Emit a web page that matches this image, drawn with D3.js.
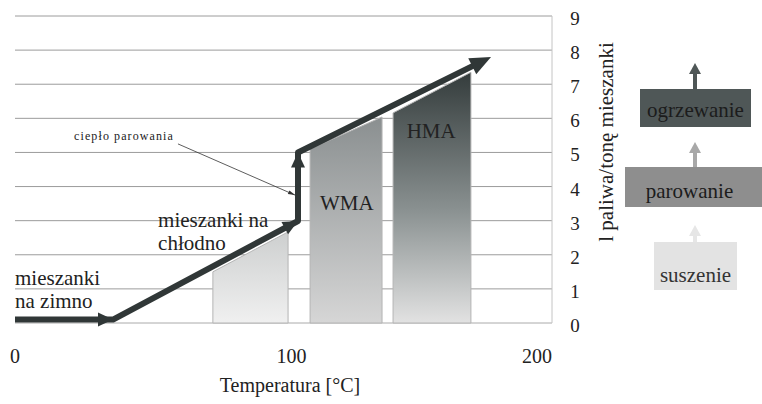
<!DOCTYPE html>
<html>
<head>
<meta charset="utf-8">
<script src="https://cdn.jsdelivr.net/npm/d3@7"></script>
<style>
  body { margin: 0; background: #fff; }
  svg text { font-family: "Liberation Serif", "DejaVu Serif", serif; fill: #222; }
</style>
</head>
<body>
<div class="chart"></div>
<script>
var svgWidth = 762;
var svgHeight = 404;

// axis ticks
var yTicks = [0, 1, 2, 3, 4, 5, 6, 7, 8, 9];
var xTicks = [0, 100, 200];

// thick process line (temperature, l paliwa/tonę)
var pathTemps = [0, 36.5, 105.4, 105.4, 177.3];
var pathValues = [0.1, 0.1, 2.99, 5.0, 7.8];

// mixture bars: start/end temperature, top value at start/end
var barNames = ["chlodno", "WMA", "HMA"];
var barTempStart = [73.7, 109.9, 140.8];
var barTempEnd = [101.7, 136.7, 169.8];
var barTopStart = [1.5, 5.1, 6.16];
var barTopEnd = [2.67, 6.04, 7.35];

// text labels in the plot (temperature, value)
var labelTexts = ["mieszanki", "na zimno", "mieszanki na", "chłodno", "WMA", "HMA"];
var labelTemps = [0, 0, 53.3, 53.3, 123.6, 155];
var labelValues = [1.11, 0.44, 2.82, 2.14, 3.31, 5.42];
var labelAnchor = ["start", "start", "start", "start", "middle", "middle"];

// annotation "ciepło parowania"
var noteText = "ciepło parowania";
var noteTemp = [22, 60.7, 104.3];
var noteValue = [5.37, 5.25, 3.75];

// legend (heating stages)
var stageNames = ["ogrzewanie", "parowanie", "suszenie"];

var margin = { top: 16, left: 15, right: 210, bottom: 81 };
var width = svgWidth - margin.left - margin.right;
var height = svgHeight - margin.top - margin.bottom;

var svg = d3.select(".chart")
  .append("svg")
  .attr("width", svgWidth)
  .attr("height", svgHeight)
  .attr("font-family", "Liberation Serif, serif");

var defs = svg.append("defs");

// gradients for bars
var gradStops = [
  [["0%", "#cdcfcf"], ["100%", "#f0f0f0"]],
  [["0%", "#8a8f90"], ["100%", "#d6d6d6"]],
  [["0%", "#343c3c"], ["55%", "#8a9191"], ["100%", "#e2e2e2"]]
];
gradStops.forEach(function(stops, i) {
  var g = defs.append("linearGradient")
    .attr("id", "g" + i)
    .attr("x1", 0).attr("y1", 0).attr("x2", 0).attr("y2", 1);
  stops.forEach(function(s) {
    g.append("stop").attr("offset", s[0]).attr("stop-color", s[1]);
  });
});

var x = d3.scaleLinear().domain([0, 200]).range([margin.left, margin.left + width]);
var y = d3.scaleLinear().domain([0, 9]).range([margin.top + height, margin.top]);

// gridlines
svg.append("g").selectAll("line")
  .data(yTicks)
  .enter()
  .append("line")
  .attr("x1", x(0))
  .attr("x2", x(200))
  .attr("y1", d => y(d))
  .attr("y2", d => y(d))
  .attr("stroke", d => d === 0 ? "#aaaaaa" : "#9c9c9c")
  .attr("stroke-width", 1);

svg.append("line")
  .attr("x1", x(200)).attr("x2", x(200))
  .attr("y1", y(9)).attr("y2", y(0))
  .attr("stroke", "#c4c4c4");

// y tick labels
svg.append("g").selectAll("text")
  .data(yTicks)
  .enter()
  .append("text")
  .attr("x", 575)
  .attr("y", d => y(d) + 9)
  .attr("text-anchor", "middle")
  .attr("font-size", "19px")
  .text(d => d);

// x tick labels
svg.append("g").selectAll("text")
  .data(xTicks)
  .enter()
  .append("text")
  .attr("x", d => x(d))
  .attr("dx", d => d === 100 ? 8 : 0)
  .attr("y", 363)
  .attr("text-anchor", (d, i) => i === xTicks.length - 1 ? "end" : "middle")
  .attr("font-size", "20px")
  .text(d => d);

// axis titles
svg.append("text")
  .attr("x", 290)
  .attr("y", 392)
  .attr("text-anchor", "middle")
  .attr("font-size", "20px")
  .text("Temperatura [°C]");

svg.append("text")
  .attr("transform", "translate(613, 142) rotate(-90)")
  .attr("text-anchor", "middle")
  .attr("font-size", "21px")
  .text("l paliwa/tonę mieszanki");

// bars
svg.append("g").selectAll("polygon")
  .data(barNames)
  .enter()
  .append("polygon")
  .attr("points", function(d, i) {
    return [
      [x(barTempStart[i]), y(0)],
      [x(barTempStart[i]), y(barTopStart[i])],
      [x(barTempEnd[i]), y(barTopEnd[i])],
      [x(barTempEnd[i]), y(0)]
    ].map(p => p.join(",")).join(" ");
  })
  .attr("fill", (d, i) => "url(#g" + i + ")")
  .attr("stroke", "#b4b4b4")
  .attr("stroke-width", 1);

// plot labels
svg.append("g").selectAll("text")
  .data(labelTexts)
  .enter()
  .append("text")
  .attr("x", (d, i) => x(labelTemps[i]))
  .attr("y", (d, i) => y(labelValues[i]))
  .attr("text-anchor", (d, i) => labelAnchor[i])
  .attr("font-size", "21px")
  .text(d => d);

// thick line with arrowheads
var lineColor = "#303737";
var pts = pathTemps.map((t, i) => [x(t), y(pathValues[i])]);

function headPoints(tip, from, len, w) {
  var dx = tip[0] - from[0], dy = tip[1] - from[1];
  var l = Math.sqrt(dx * dx + dy * dy);
  var ux = dx / l, uy = dy / l;
  var bx = tip[0] - ux * len, by = tip[1] - uy * len;
  return [
    [tip[0], tip[1]],
    [bx - uy * w / 2, by + ux * w / 2],
    [bx + uy * w / 2, by - ux * w / 2]
  ];
}

var last = pts[pts.length - 1], prev = pts[pts.length - 2];
var dl = Math.hypot(last[0] - prev[0], last[1] - prev[1]);
var shortEnd = [last[0] - (last[0] - prev[0]) / dl * 14, last[1] - (last[1] - prev[1]) / dl * 14];
var linePts = pts.slice(0, -1).concat([shortEnd]);

svg.append("path")
  .attr("d", d3.line()(linePts))
  .attr("fill", "none")
  .attr("stroke", lineColor)
  .attr("stroke-width", 6)
  .attr("stroke-linejoin", "round");

var heads = [];
for (var i = 1; i < pts.length; i++) {
  var big = i === pts.length - 1;
  heads.push(headPoints(pts[i], pts[i - 1], big ? 21 : 15, big ? 18 : 14));
}
svg.append("g").selectAll("polygon")
  .data(heads)
  .enter()
  .append("polygon")
  .attr("points", d => d.map(p => p.join(",")).join(" "))
  .attr("fill", lineColor);

// annotation
svg.append("text")
  .attr("x", x(noteTemp[0]))
  .attr("y", y(noteValue[0]))
  .attr("font-size", "12px")
  .attr("letter-spacing", "1.1px")
  .text(noteText);

var nA = [x(noteTemp[1]), y(noteValue[1])], nB = [x(noteTemp[2]), y(noteValue[2])];
svg.append("line")
  .attr("x1", nA[0]).attr("y1", nA[1])
  .attr("x2", nB[0]).attr("y2", nB[1])
  .attr("stroke", "#333").attr("stroke-width", 0.8);
svg.append("polygon")
  .attr("points", headPoints(nB, nA, 7, 4).map(p => p.join(",")).join(" "))
  .attr("fill", "#333");

// legend: stage boxes with upward arrows
var stageBox = [[640, 89, 111, 38], [625, 167, 137, 40], [654, 242, 83, 48]];
var stageFill = ["#4f5757", "#8e8e8e", "#e3e3e3"];
var stageText = ["#1c1c1c", "#1c1c1c", "#333333"];
var stageArrow = ["#4f5757", "#a8a8a8", "#e6e6e6"];
var stageArrowTop = [63, 142, 225];
var stageBaseline = [117, 198, 282];

var legend = svg.append("g");
stageNames.forEach(function(name, i) {
  var b = stageBox[i];
  var cx = 695;
  legend.append("rect")
    .attr("x", cx - 2).attr("y", stageArrowTop[i] + 9)
    .attr("width", 4).attr("height", b[1] - stageArrowTop[i] - 9)
    .attr("fill", stageArrow[i]);
  legend.append("polygon")
    .attr("points", [[cx, stageArrowTop[i]], [cx - 6, stageArrowTop[i] + 11], [cx + 6, stageArrowTop[i] + 11]].map(p => p.join(",")).join(" "))
    .attr("fill", stageArrow[i]);
  legend.append("rect")
    .attr("x", b[0]).attr("y", b[1])
    .attr("width", b[2]).attr("height", b[3])
    .attr("fill", stageFill[i]);
  legend.append("text")
    .attr("x", b[0] + b[2] / 2 + (i === 1 ? -4 : 0))
    .attr("y", stageBaseline[i])
    .attr("text-anchor", "middle")
    .attr("font-size", "21px")
    .style("fill", stageText[i])
    .text(name);
});
</script>
</body>
</html>
